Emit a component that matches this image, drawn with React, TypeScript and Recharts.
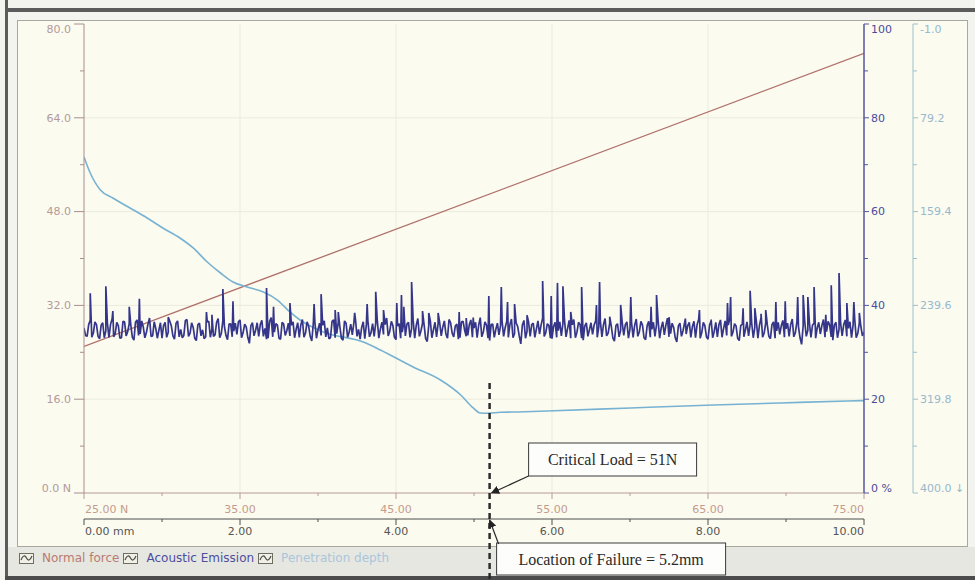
import React from 'react';
import { ComposedChart, Line, XAxis, YAxis, ReferenceLine, ReferenceDot, Legend } from 'recharts';

// ---------------- data ----------------
// Acoustic emission baseline noise (%), sampled over 0..10 mm.
// aeEven holds samples 0,2,4,..; aeOdd holds the samples in between (1,3,5,..)
const aeEven: number[] = [
  35.2, 33.4, 36.8, 34.1, 35.9, 32.9, 36.3, 34.6, 33.2, 37.1, 34.0, 35.7, 33.1, 36.5, 34.4, 35.8, 32.6, 36.9, 33.9, 35.4, 34.2, 37.3, 33.5, 35.1, 34.7,
  33.0, 36.4, 34.3, 35.6, 32.8, 36.7, 34.9, 33.6, 37.0, 34.1, 35.3, 32.5, 36.2, 34.8, 33.3, 36.6, 35.0, 33.7, 37.2, 34.0, 35.5, 32.7, 36.1, 34.5, 33.8,
  36.9, 34.2, 35.4, 31.9, 36.3, 34.7, 33.4, 36.8, 35.1, 33.0, 37.4, 34.3, 35.8, 32.8, 36.0, 34.6, 33.5, 36.5, 34.9, 33.2, 37.0, 34.1, 35.6, 32.4, 36.4,
  34.8, 33.6, 36.7, 35.2, 33.1, 36.9, 34.0, 35.5, 32.6, 36.2, 34.4, 33.7, 37.1, 34.9, 35.3, 32.9, 36.6, 34.2, 33.4, 36.8, 35.0, 33.8, 37.3, 34.5, 35.7,
  32.7, 36.1, 34.3, 33.5, 36.4, 35.1, 33.0, 37.2, 34.6, 35.9, 32.3, 36.7, 34.8, 33.3, 36.3, 35.4, 33.9, 37.0, 34.1, 35.6, 32.8, 36.5, 34.7, 33.6, 36.9,
  35.2, 33.1, 37.4, 34.4, 35.8, 32.5, 36.0, 34.9, 33.7, 36.6, 35.3, 33.2, 37.1, 34.0, 35.5, 31.8, 36.8, 34.5, 33.4, 36.2, 35.0, 33.9, 37.3, 34.2, 35.7,
  32.9, 36.4, 34.6, 33.5, 36.9, 35.1, 33.0, 37.0, 34.3, 35.9, 32.6, 36.3, 34.8, 33.8, 36.7, 35.4, 33.3, 37.2, 34.1, 35.6, 32.4, 36.1, 34.7, 33.6, 36.5,
  35.0, 33.2, 37.1, 34.4, 35.8, 32.7, 36.6, 34.9, 33.4, 36.8, 35.2, 33.7, 37.3, 34.0, 35.3, 32.2, 36.2, 34.6, 33.9, 36.4, 35.5, 33.1, 37.0, 34.2, 35.7,
  32.8, 36.7, 34.5, 33.3, 36.9, 35.1, 33.6, 37.2, 34.3, 35.6, 32.5, 36.0, 34.8, 33.5, 36.3, 35.3, 33.0, 37.4, 34.1, 35.9, 32.9, 36.5, 34.6, 33.8, 36.8,
  35.0, 33.4, 37.1, 34.2, 35.4, 31.7, 36.6, 34.7, 33.2, 36.2, 35.2, 33.9, 37.0, 34.4, 35.8, 32.6, 36.4, 34.9, 33.5, 36.9, 35.1, 33.1, 37.3, 34.0, 35.5,
  34.3,
];
const aeOdd: number[] = [
  33.6, 35.9, 33.2, 36.5, 33.4, 35.8, 33.1, 36.2, 35.9, 33.3, 36.4, 33.0, 36.6, 33.5, 36.1, 33.2, 36.4, 33.6, 36.7, 33.1, 36.0, 33.4, 36.5, 33.0, 36.3,
  35.7, 33.2, 36.6, 33.5, 36.2, 33.3, 33.1, 36.8, 33.4, 36.3, 33.0, 35.9, 33.5, 32.9, 36.5, 33.2, 33.4, 36.4, 33.1, 36.7, 33.6, 36.0, 33.3, 36.2, 36.5,
  33.1, 36.0, 33.2, 35.7, 33.5, 36.3, 35.9, 33.4, 32.8, 36.6, 33.3, 36.1, 33.0, 36.4, 33.6, 36.2, 35.8, 33.1, 36.3, 35.9, 33.2, 36.5, 33.4, 36.1, 33.0,
  36.2, 35.8, 33.3, 32.9, 36.6, 33.1, 36.4, 33.0, 36.7, 33.2, 36.0, 36.3, 33.4, 32.8, 36.5, 35.9, 33.3, 36.1, 36.2, 33.0, 36.4, 35.9, 33.5, 36.6, 33.2,
  35.6, 33.0, 36.3, 36.0, 33.2, 36.8, 35.8, 33.4, 36.2, 32.9, 35.7, 33.1, 36.4, 36.1, 33.5, 36.7, 33.0, 36.3, 33.3, 36.0, 33.1, 36.6, 33.4, 35.9, 33.2,
  36.4, 35.8, 33.3, 36.5, 33.0, 35.9, 33.2, 36.2, 35.7, 33.4, 36.6, 35.9, 33.1, 36.3, 33.5, 35.8, 33.0, 36.4, 35.9, 33.2, 36.7, 35.8, 33.4, 36.1, 33.0,
  35.5, 33.2, 36.5, 36.1, 33.3, 36.8, 35.9, 33.1, 36.4, 33.0, 35.6, 33.4, 36.3, 35.8, 33.2, 36.6, 35.9, 33.5, 36.2, 33.1, 35.7, 33.3, 36.4, 35.9, 33.0,
  36.3, 35.8, 33.4, 36.6, 33.1, 35.7, 33.2, 36.4, 35.9, 33.0, 36.5, 35.8, 33.3, 36.2, 33.1, 35.6, 33.4, 36.3, 35.7, 33.2, 36.6, 35.9, 33.0, 36.4, 33.3,
  35.8, 33.1, 36.4, 35.9, 33.2, 36.7, 35.8, 33.4, 36.1, 33.0, 35.7, 33.3, 36.5, 35.9, 33.1, 36.6, 35.8, 33.2, 36.3, 33.4, 35.9, 33.0, 36.4, 35.7, 33.2,
  36.2, 35.9, 33.3, 36.5, 33.1, 35.6, 33.4, 36.3, 35.8, 33.0, 36.4, 35.7, 33.2, 36.6, 33.3, 35.8, 33.1, 36.2, 35.9, 33.4, 36.5, 35.8, 33.1, 36.3, 33.5,
];
const AE_SPAN_MM = 10;

// Acoustic emission spikes: [distance mm, %]
const aeSpikes: [number, number][] = [
  [0.08, 42.6], [0.28, 44.1], [0.37, 38.8], [0.58, 39.7], [0.71, 41.4], [1.08, 37.5], [1.57, 38.6], [1.64, 38.0],
  [1.78, 43.5], [1.91, 40.9], [2.34, 43.7], [2.43, 39.7], [2.64, 40.5], [2.95, 40.3], [3.04, 42.4], [3.22, 39.0],
  [3.26, 38.6], [3.47, 38.4], [3.63, 40.3], [3.74, 42.9], [3.84, 39.0], [4.01, 40.5], [4.07, 42.2], [4.10, 39.7],
  [4.20, 45.0], [4.34, 38.8], [4.42, 38.4], [4.54, 38.4], [4.81, 38.6], [4.90, 37.3], [4.99, 37.4],
  [5.19, 42.0], [5.35, 43.9], [5.43, 40.7], [5.52, 40.3], [5.68, 37.9], [5.88, 45.2], [5.99, 42.0], [6.07, 44.8],
  [6.14, 44.1], [6.24, 38.6], [6.38, 43.9], [6.57, 40.1], [6.61, 45.0], [6.74, 37.6], [6.88, 40.1], [7.01, 41.8],
  [7.27, 39.7], [7.34, 42.2], [7.50, 37.5], [7.71, 37.2], [7.89, 39.0], [8.04, 37.0], [8.25, 40.5], [8.29, 41.8],
  [8.45, 39.4], [8.54, 43.1], [8.60, 39.4], [8.68, 38.2], [8.74, 39.0], [8.87, 40.7], [8.99, 40.9], [9.15, 41.8],
  [9.22, 42.2], [9.28, 41.8], [9.36, 43.9], [9.51, 38.0], [9.58, 44.3], [9.68, 46.9], [9.78, 40.5], [9.87, 40.7],
  [9.94, 38.4],
];

// Penetration depth: [distance mm, depth]
const penetrationDepth: [number, number][] = [
  [0.0, 112.7], [0.08, 126.4], [0.21, 140.9], [0.37, 147.8], [0.59, 156.3], [0.81, 164.9], [1.01, 173.4],
  [1.23, 182.0], [1.40, 190.5], [1.58, 202.5], [1.75, 211.9], [1.91, 219.6], [2.09, 223.9], [2.30, 228.1],
  [2.48, 235.0], [2.64, 245.2], [2.77, 252.1], [3.07, 262.3], [3.58, 270.9], [3.80, 277.7], [4.22, 292.3],
  [4.57, 303.4], [4.83, 316.2], [4.99, 327.3], [5.08, 331.6], [5.17, 331.8], [5.34, 331.0], [5.56, 330.7],
  [5.94, 329.9], [7.01, 327.3], [8.07, 324.8], [8.93, 323.0], [9.79, 321.3], [10.0, 321.0],
];

// Normal force: [applied load N (x), force N]
const normalForce: [number, number][] = [[25, 25], [75, 75]];

// axes
const forceTicks = [0, 8, 16, 24, 32, 40, 48, 56, 64, 72, 80];
const forceLabels: [number, string][] = [[0, '0.0 N'], [16, '16.0'], [32, '32.0'], [48, '48.0'], [64, '64.0'], [80, '80.0']];
const aeTicks = [0, 10, 20, 30, 40, 50, 60, 70, 80, 90, 100];
const aeLabels: [number, string][] = [[0, '0 %'], [20, '20'], [40, '40'], [60, '60'], [80, '80'], [100, '100']];
const penTicks = [-1, 39.1, 79.2, 119.3, 159.4, 199.5, 239.6, 279.7, 319.8, 359.9, 400];
const penLabels: [number, string][] = [[-1, '-1.0'], [79.2, '79.2'], [159.4, '159.4'], [239.6, '239.6'], [319.8, '319.8'], [400, '400.0 ↓']];
const loadTicks = [25, 30, 35, 40, 45, 50, 55, 60, 65, 70, 75];
const loadLabels: [number, string][] = [[25, '25.00 N'], [35, '35.00'], [45, '45.00'], [55, '55.00'], [65, '65.00'], [75, '75.00']];
const distTicks = [0, 1, 2, 3, 4, 5, 6, 7, 8, 9, 10];
const distLabels: [number, string][] = [[0, '0.00 mm'], [2, '2.00'], [4, '4.00'], [6, '6.00'], [8, '8.00'], [10, '10.00']];
const gridDist = [2, 4, 6, 8];
const gridForce = [16, 32, 48, 64];

// annotation
const failureDistance = 5.2;
const criticalLoadText = 'Critical Load = 51N';
const failureText = 'Location of Failure = 5.2mm';

const legendNames = ['Normal force', 'Acoustic Emission', 'Penetration depth'];

// ---------------- derived tables ----------------
const aeSamples: number[] = [];
aeEven.forEach((v, i) => {
  aeSamples.push(v);
  if (i < aeOdd.length) aeSamples.push(aeOdd[i]);
});
const aeStep = AE_SPAN_MM / (aeSamples.length - 1);
const aeData = [
  ...aeSamples.map((v, i) => ({ mm: +(i * aeStep).toFixed(4), ae: v })),
  ...aeSpikes.map(([mm, v]) => ({ mm, ae: v })),
].sort((a, b) => a.mm - b.mm);
const penData = penetrationDepth.map(([mm, d]) => ({ mm, pen: d }));
const forceData = normalForce.map(([load, f]) => ({ load, force: f }));

// ---------------- styles ----------------
const FONT = '"DejaVu Sans", Verdana, sans-serif';
const SERIF = '"Liberation Serif", "Times New Roman", serif';
const C = {
  force: '#b0706a', forceAxis: '#a88e8e', forceText: '#b39a9a',
  loadAxis: '#b89c92', loadText: '#c49c8c',
  distAxis: '#4f4f4f', distText: '#555555',
  ae: '#35368a', aeAxis: '#56569f', aeText: '#4b4b9c',
  pen: '#78b2d2', penAxis: '#9cbfcc', penText: '#98b8cc',
  grid: '#ebebdd',
};
const legendColors = ['#b97a72', '#4d4da0', '#a9c6dc'];

const findLabel = (labels: [number, string][], v: number) => labels.find((l) => Math.abs(l[0] - v) < 1e-6);

function makeYTick(side: 'left' | 'right', labels: [number, string][], axisColor: string, textColor: string, topValue: number, bottomValue: number) {
  return function YTick(props: any) {
    const { x, y, payload } = props;
    const v = Number(payload.value);
    const lab = findLabel(labels, v);
    const dir = side === 'left' ? -1 : 1;
    const len = lab ? (side === 'left' ? 10 : 5) : 4;
    let dy = 0;
    if (Math.abs(v - topValue) < 1e-6) dy = 5;
    if (Math.abs(v - bottomValue) < 1e-6) dy = -5;
    return (
      <g>
        <line x1={x} y1={y} x2={x + dir * len} y2={y} stroke={axisColor} strokeWidth={1} />
        {lab && (
          <text x={x + dir * (side === 'left' ? 13 : 7)} y={y + dy} dy="0.35em" textAnchor={side === 'left' ? 'end' : 'start'}
            fill={textColor} fontSize={11} fontFamily={FONT}>{lab[1]}</text>
        )}
      </g>
    );
  };
}

function makeXTick(labels: [number, string][], axisColor: string, textColor: string, first: number, last: number, labelOffset: number) {
  return function XTick(props: any) {
    const { x, y, payload } = props;
    const v = Number(payload.value);
    const lab = findLabel(labels, v);
    const len = lab ? 6 : 3;
    const anchor = v === first ? 'start' : v === last ? 'end' : 'middle';
    return (
      <g>
        <line x1={x} y1={y} x2={x} y2={y + len} stroke={axisColor} strokeWidth={1} />
        {lab && (
          <text x={x + (anchor === 'start' ? 1 : 0)} y={y + labelOffset} dy="0.35em" textAnchor={anchor}
            fill={textColor} fontSize={11} fontFamily={FONT}>{lab[1]}</text>
        )}
      </g>
    );
  };
}

const FailureMarker = (props: any) => {
  const { cx, cy } = props;
  if (cx == null || cy == null) return null;
  return (
    <g>
      <defs>
        <marker id="arrowHead" viewBox="0 0 10 10" refX="9" refY="5" markerWidth="7" markerHeight="7" orient="auto">
          <path d="M0,0 L10,5 L0,10 z" fill="#222" />
        </marker>
      </defs>
      <line x1={cx} y1={cy - 110} x2={cx} y2={cy + 87} stroke="#2b2b2b" strokeWidth={2.5} strokeDasharray="6 4" />
      <rect x={cx + 39} y={cy - 50} width={168} height={33} fill="#fdfdfb" stroke="#3a3a3a" strokeWidth={1} />
      <text x={cx + 123} y={cy - 33.5} dy="0.35em" textAnchor="middle" fontFamily={SERIF} fontSize={16} fill="#2a2a2a">{criticalLoadText}</text>
      <line x1={cx + 39} y1={cy - 17} x2={cx + 2} y2={cy} stroke="#2a2a2a" strokeWidth={1.2} markerEnd="url(#arrowHead)" />
      <rect x={cx + 7} y={cy + 50} width={229} height={32} fill="#fdfdfb" stroke="#3a3a3a" strokeWidth={1} />
      <text x={cx + 121.5} y={cy + 66} dy="0.35em" textAnchor="middle" fontFamily={SERIF} fontSize={16} fill="#2a2a2a">{failureText}</text>
      <line x1={cx + 9} y1={cy + 51} x2={cx} y2={cy + 27} stroke="#2a2a2a" strokeWidth={1.2} markerEnd="url(#arrowHead)" />
    </g>
  );
};

const LegendContent = () => (
  <div style={{ display: 'flex', alignItems: 'center', fontFamily: FONT, fontSize: 12, lineHeight: '14px', whiteSpace: 'nowrap' }}>
    {legendNames.map((name, i) => (
      <div key={name} style={{ display: 'flex', alignItems: 'center', marginRight: 4 }}>
        <svg width={15} height={11} style={{ display: 'block' }}>
          <rect x={0.5} y={0.5} width={14} height={10} fill="#f0f0e8" stroke="#6d6d60" />
          <path d="M2,7 C4,2 6,2 7.5,5 S11,8 13,3" fill="none" stroke="#4a4a40" strokeWidth={1.2} />
        </svg>
        <span style={{ color: legendColors[i], marginLeft: 8 }}>{name}</span>
      </div>
    ))}
  </div>
);

export default function App() {
  return (
    <div style={{ position: 'absolute', left: 0, top: 0, width: 975, height: 580, background: '#f3f3ef', overflow: 'hidden' }}>
      <div style={{ position: 'absolute', left: 5, top: 0, width: 3, height: 580, background: '#5c5c5c' }} />
      <div style={{ position: 'absolute', left: 5, top: 8, width: 970, height: 4, background: '#5c5c5c' }} />
      <div style={{ position: 'absolute', left: 17, top: 20, width: 951, height: 527, background: '#fbfbf0', border: '1px solid #a8a89e', boxSizing: 'border-box' }} />
      <div style={{ position: 'absolute', left: 8, top: 547, width: 967, height: 29, background: '#e7e7e1' }} />
      <div style={{ position: 'absolute', left: 5, top: 576, width: 970, height: 4, background: '#4c4c4c' }} />
      <div style={{ position: 'absolute', left: 0, top: 0 }}>
        <ComposedChart width={975} height={580} margin={{ top: 24, right: 12, bottom: 37, left: 20 }}>
          <XAxis xAxisId="N" dataKey="load" type="number" domain={[25, 75]} ticks={loadTicks} interval={0}
            height={26} tickSize={0} tickMargin={0} tickLine={false} axisLine={{ stroke: C.loadAxis }}
            tick={makeXTick(loadLabels, C.loadAxis, C.loadText, 25, 75, 16)} allowDataOverflow />
          <XAxis xAxisId="mm" dataKey="mm" type="number" domain={[0, 10]} ticks={distTicks} interval={0}
            height={24} tickSize={0} tickMargin={0} tickLine={false} axisLine={{ stroke: C.distAxis }}
            tick={makeXTick(distLabels, C.distAxis, C.distText, 0, 10, 12.5)} allowDataOverflow />
          <YAxis yAxisId="force" orientation="left" type="number" domain={[0, 80]} ticks={forceTicks} interval={0}
            width={64} tickSize={0} tickMargin={0} tickLine={false} axisLine={{ stroke: C.forceAxis }}
            tick={makeYTick('left', forceLabels, C.forceAxis, C.forceText, 80, 0)} allowDataOverflow />
          <YAxis yAxisId="ae" orientation="right" type="number" domain={[0, 100]} ticks={aeTicks} interval={0}
            width={49} tickSize={0} tickMargin={0} tickLine={false} axisLine={{ stroke: C.aeAxis, strokeWidth: 1.5 }}
            tick={makeYTick('right', aeLabels, C.aeAxis, C.aeText, 100, 0)} allowDataOverflow />
          <YAxis yAxisId="pen" orientation="right" type="number" domain={[-1, 400]} reversed ticks={penTicks} interval={0}
            width={50} tickSize={0} tickMargin={0} tickLine={false} axisLine={{ stroke: C.penAxis }}
            tick={makeYTick('right', penLabels, C.penAxis, C.penText, -1, 400)} allowDataOverflow />

          {gridDist.map((d) => (
            <ReferenceLine key={'gx' + d} xAxisId="mm" yAxisId="force" x={d} stroke={C.grid} strokeWidth={1} />
          ))}
          {gridForce.map((f) => (
            <ReferenceLine key={'gy' + f} xAxisId="mm" yAxisId="force" y={f} stroke={C.grid} strokeWidth={1} />
          ))}

          <Line data={forceData} xAxisId="N" yAxisId="force" dataKey="force" type="linear" stroke={C.force}
            strokeWidth={1.3} dot={false} isAnimationActive={false} />
          <Line data={penData} xAxisId="mm" yAxisId="pen" dataKey="pen" type="monotone" stroke={C.pen}
            strokeWidth={1.6} dot={false} isAnimationActive={false} />
          <Line data={aeData} xAxisId="mm" yAxisId="ae" dataKey="ae" type="linear" stroke={C.ae}
            strokeWidth={1.7} strokeLinejoin="bevel" dot={false} isAnimationActive={false} />

          <ReferenceDot xAxisId="mm" yAxisId="force" x={failureDistance} y={0} r={0} ifOverflow="visible" shape={FailureMarker} />

          <Legend layout="horizontal" verticalAlign="middle" align="center" content={<LegendContent />}
            wrapperStyle={{ left: 19, top: 551, width: 520, height: 14 }} />
        </ComposedChart>
      </div>
    </div>
  );
}
